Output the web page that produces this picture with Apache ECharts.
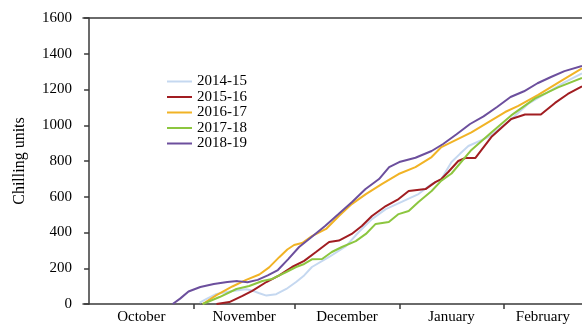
<!DOCTYPE html>
<html>
<head>
<meta charset="utf-8">
<title>Chilling units accumulation</title>
<script src="https://cdn.jsdelivr.net/npm/echarts@6/dist/echarts.min.js"></script>
<style>
  html, body { margin: 0; padding: 0; background: #fff; }
  #chart { width: 582px; height: 325px; }
</style>
</head>
<body>
<div id="chart"></div>
<script>
// Seasons shown in the legend
const seasons = ['2014-15', '2015-16', '2016-17', '2017-18', '2018-19'];

// Month names and the day (counted from 1 October) on which each month starts
const monthNames = ['October', 'November', 'December', 'January', 'February'];
const monthStarts = [0, 31, 61, 92, 123, 151];

// Cumulative chilling units: [day since 1 October, units]
const cu2014 = [[32.8,8],[35,30],[37.8,56],[40.5,66],[42.5,73],[46.6,82],[48.4,75],[50.5,60],[52.6,47],[55.5,55],[58.5,84],[61.4,123],[63.8,160],[66.1,207],[71.2,263],[76.2,324],[80,403],[83.9,475],[88,531],[92.7,571],[97.7,615],[101.6,671],[104.5,699],[107.5,794],[110,840],[112.5,884],[118.4,934],[124.3,1018],[130.2,1119],[137,1195],[141,1240],[146.2,1290]];
const cu2015 = [[37.8,0],[41.6,11],[45.5,45],[48.4,73],[52.6,123],[56.4,160],[60.2,207],[63.8,241],[67.3,291],[71.2,347],[74.1,355],[77.9,392],[80.9,436],[83.9,492],[88,548],[91.8,587],[94.8,632],[99.8,643],[102.7,682],[104.5,699],[106.6,740],[109.5,800],[111.6,817],[114.6,817],[119.3,934],[125.2,1035],[129.3,1060],[134,1060],[138.2,1125],[142,1175],[146.2,1218]];
const cu2016 = [[33.7,0],[37.8,50],[42.5,98],[46.6,135],[50.5,165],[53.4,205],[56.4,262],[58.8,305],[60.8,330],[63.2,341],[66.1,380],[70.3,420],[74.1,492],[77.9,559],[82.1,615],[86.8,671],[91.8,727],[96.8,766],[101.6,822],[104.5,878],[113.4,960],[123.4,1074],[127.3,1108],[133.2,1170],[139.9,1247],[146.2,1318]];
const cu2017 = [[33.7,0],[38.7,39],[43.7,84],[47.5,101],[51.4,129],[54.3,140],[58.5,179],[61.4,207],[63.8,224],[66.1,250],[69.1,252],[72,291],[75,319],[79.1,352],[82.1,392],[85,448],[88.9,459],[91.8,503],[94.8,520],[97.7,571],[101.6,632],[104.5,690],[107.5,730],[113.4,862],[119.3,960],[125.2,1055],[132.3,1150],[139.1,1212],[146.2,1265]];
const cu2018 = [[24.8,0],[27,30],[29.5,70],[33,95],[37,112],[41,123],[44,128],[47,122],[50,135],[53,160],[56,190],[59,250],[62.3,319],[66,375],[70,436],[74,503],[78,571],[82,643],[86,699],[89,766],[92,794],[96.8,818],[101.6,856],[105,895],[109,950],[113,1007],[117,1050],[121,1102],[125,1158],[129,1190],[133,1235],[137,1270],[141,1303],[146.2,1332]];

const seriesData = [cu2014, cu2015, cu2016, cu2017, cu2018];
const lineColors = ['#c5d8f0', '#a11d21', '#f1b325', '#8cc63f', '#6c4f9d'];

const xMin = -1.8, xMax = 146.2;

// Month label sits in the middle of the visible part of each month
const labelDays = monthNames.map((_, i) =>
  (Math.max(monthStarts[i], 0) + Math.min(monthStarts[i + 1], xMax)) / 2);
const tickDays = monthStarts.slice(1).filter(d => d < xMax);

const serif = '"Liberation Serif", "Times New Roman", serif';
const axisColor = '#3a3a3a';

const chart = echarts.init(document.getElementById('chart'), null, { renderer: 'canvas' });
chart.setOption({
  animation: false,
  grid: { left: 83, right: -2, top: 18, bottom: 20, containLabel: false },
  legend: {
    orient: 'vertical',
    left: 162,
    top: 69,
    icon: 'rect',
    itemWidth: 25,
    itemHeight: 2,
    itemGap: 0.5,
    data: seasons,
    textStyle: { fontFamily: serif, fontSize: 15, color: '#000' }
  },
  xAxis: [
    {
      type: 'value',
      min: xMin,
      max: xMax,
      position: 'bottom',
      splitLine: { show: false },
      axisLine: { show: true, lineStyle: { color: axisColor, width: 1.5 } },
      axisTick: { show: true, customValues: tickDays, length: 5, inside: false, lineStyle: { color: axisColor, width: 1.5 } },
      axisLabel: {
        customValues: labelDays,
        margin: 6,
        color: '#000',
        fontFamily: serif,
        fontSize: 15,
        formatter: (v) => {
          const i = labelDays.findIndex(d => Math.abs(d - v) < 1e-6);
          return i >= 0 ? monthNames[i] : '';
        }
      }
    },
    {
      type: 'value',
      min: xMin,
      max: xMax,
      position: 'top',
      splitLine: { show: false },
      axisLine: { show: true, onZero: false, lineStyle: { color: axisColor, width: 1.5 } },
      axisTick: { show: false },
      axisLabel: { show: false }
    }
  ],
  yAxis: {
    type: 'value',
    min: 0,
    max: 1600,
    interval: 200,
    name: 'Chilling units',
    nameLocation: 'middle',
    nameGap: 55,
    nameRotate: 90,
    nameTextStyle: { fontFamily: serif, fontSize: 16, color: '#000' },
    splitLine: { show: false },
    axisLine: { show: true, lineStyle: { color: axisColor, width: 1.5 } },
    axisTick: { show: true, length: 5, inside: false, lineStyle: { color: axisColor, width: 1.5 } },
    axisLabel: { margin: 11, color: '#000', fontFamily: serif, fontSize: 15, formatter: (v) => String(v) }
  },
  series: seasons.map((name, i) => ({
    name: name,
    type: 'line',
    xAxisIndex: 0,
    data: seriesData[i],
    showSymbol: false,
    symbol: 'none',
    smooth: false,
    lineStyle: { width: 2, color: lineColors[i] },
    itemStyle: { color: lineColors[i] },
    z: 2 + i
  }))
});
</script>
</body>
</html>
